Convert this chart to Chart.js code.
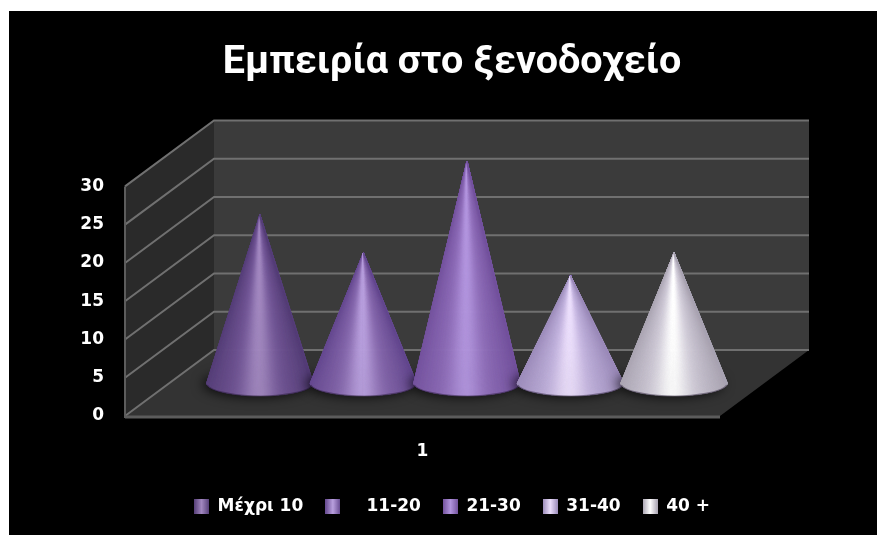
<!DOCTYPE html>
<html>
<head>
<meta charset="utf-8">
<title>Εμπειρία στο ξενοδοχείο</title>
<script src="https://cdn.jsdelivr.net/npm/chart.js@4/dist/chart.umd.js"></script>
<style>
    html, body { margin: 0; padding: 0; background: #fff; }
    canvas { position: absolute; left: 9px; top: 11px; background: #000; }
</style>
</head>
<body>
<canvas id="experienceChart" width="868" height="524"></canvas>
<script>
const chartTitle = 'Εμπειρία στο ξενοδοχείο';
const categories = ['1'];
const seriesNames = ['Μέχρι 10', '   11-20', '21-30', '31-40', '40 +'];
const seriesValues = [22, 17, 29, 14, 17];
const axisMax = 30;
const axisStep = 5;

// edge, body and highlight colour of each cone
const conePalette = [
    ['#563f78', '#775a9c', '#a288c0'],
    ['#664a90', '#8c6db2', '#b9a0de'],
    ['#74539e', '#9472be', '#b295de'],
    ['#9c8cba', '#c8b9e4', '#ecdffc'],
    ['#aaa4b2', '#d8d3e0', '#ffffff']
];

// 3D box offset between the front plane (the scales) and the back wall
const depthX = 89;
const depthY = -66;
const titleFont = 'Roboto, "Open Sans", sans-serif';
const labelFont = '"DejaVu Sans", sans-serif';

function hexToRgb(hex) {
    return [1, 3, 5].map(function (i) { return parseInt(hex.substr(i, 2), 16); });
}

function mix(a, b, t) {
    return a.map(function (v, i) { return v + (b[i] - v) * t; });
}

function coneColour(palette, u) {
    // u runs from -1 (left silhouette) to 1 (right silhouette)
    var rgb = palette.map(hexToRgb);
    var a = Math.abs(u + 0.02);
    var c = mix(rgb[1], rgb[0], Math.pow(Math.min(a, 1), 1.8));
    c = mix(c, rgb[2], Math.exp(-Math.pow(a / 0.3, 2)));
    return 'rgb(' + c.map(Math.round).join(',') + ')';
}

function legendSwatch(palette) {
    var c = document.createElement('canvas');
    c.width = 15;
    c.height = 15;
    var g = c.getContext('2d');
    var grad = g.createLinearGradient(0, 0, 15, 0);
    grad.addColorStop(0, palette[0]);
    grad.addColorStop(0.5, palette[2]);
    grad.addColorStop(1, palette[0]);
    g.fillStyle = grad;
    g.fillRect(0, 0, 15, 15);
    return c;
}

// walls, floor and gridlines of the 3D box, built from the y scale
const boxPlugin = {
    id: 'box3d',
    beforeDatasetsDraw: function (chart) {
        var ctx = chart.ctx, x = chart.scales.x, y = chart.scales.y;
        var y0 = y.getPixelForValue(0), yTop = y.getPixelForValue(axisMax);
        var poly = function (pts, fill) {
            ctx.beginPath();
            pts.forEach(function (p, i) { i ? ctx.lineTo(p[0], p[1]) : ctx.moveTo(p[0], p[1]); });
            ctx.closePath();
            ctx.fillStyle = fill;
            ctx.fill();
        };
        ctx.save();
        poly([[x.left + depthX, yTop + depthY], [x.right + depthX, yTop + depthY],
              [x.right + depthX, y0 + depthY], [x.left + depthX, y0 + depthY]], '#3b3b3b');
        poly([[x.left, yTop], [x.left + depthX, yTop + depthY],
              [x.left + depthX, y0 + depthY], [x.left, y0]], '#2a2a2a');
        poly([[x.left, y0], [x.left + depthX, y0 + depthY],
              [x.right + depthX, y0 + depthY], [x.right, y0]], '#333333');

        ctx.strokeStyle = '#707070';
        ctx.lineWidth = 2;
        y.ticks.forEach(function (t) {
            var py = y.getPixelForValue(t.value);
            ctx.beginPath();
            ctx.moveTo(x.left, py);
            ctx.lineTo(x.left + depthX, py + depthY);
            ctx.lineTo(x.right + depthX, py + depthY);
            ctx.stroke();
        });
        ctx.strokeStyle = '#5c5c5c';
        ctx.beginPath();
        ctx.moveTo(x.left, yTop);
        ctx.lineTo(x.left, y0 + 2);
        ctx.stroke();
        ctx.lineWidth = 3;
        ctx.beginPath();
        ctx.moveTo(x.left, y0 + 1);
        ctx.lineTo(x.right, y0 + 1);
        ctx.stroke();
        ctx.restore();
    }
};

// each bar element is drawn as a shaded cone standing mid-way into the box
const conePlugin = {
    id: 'cones',
    afterDatasetsDraw: function (chart) {
        var ctx = chart.ctx;
        chart.data.datasets.forEach(function (ds, i) {
            var el = chart.getDatasetMeta(i).data[0];
            var palette = conePalette[i];
            var cx = el.x + depthX * 0.5;
            var apexY = el.y + depthY / 2;
            var baseY = el.base + depthY / 2;
            var rx = el.width / 2 * 1.03;
            var ry = 13;
            var steps = 320;

            ctx.save();
            ctx.shadowColor = 'rgba(0,0,0,0.8)';
            ctx.shadowBlur = 12;
            ctx.shadowOffsetX = -4;
            ctx.shadowOffsetY = 1;
            ctx.fillStyle = '#1d1d1d';
            ctx.beginPath();
            ctx.ellipse(cx, baseY, rx, ry, 0, 0, Math.PI * 2);
            ctx.fill();
            ctx.restore();

            ctx.save();
            ctx.lineWidth = 0.4;
            for (var s = 0; s < steps; s++) {
                var t0 = Math.PI * s / steps, t1 = Math.PI * (s + 1) / steps;
                var col = coneColour(palette, -Math.cos((t0 + t1) / 2));
                ctx.fillStyle = col;
                ctx.strokeStyle = col;
                ctx.beginPath();
                ctx.moveTo(cx, apexY);
                ctx.lineTo(cx - rx * Math.cos(t0), baseY + ry * Math.sin(t0));
                ctx.lineTo(cx - rx * Math.cos(t1), baseY + ry * Math.sin(t1));
                ctx.closePath();
                ctx.fill();
                ctx.stroke();
            }
            // thin dark rim along the front of the base
            ctx.strokeStyle = 'rgba(30,20,45,0.45)';
            ctx.lineWidth = 1.2;
            ctx.beginPath();
            ctx.ellipse(cx, baseY, rx, ry, 0, 0.15, Math.PI - 0.15);
            ctx.stroke();
            ctx.restore();
        });
    }
};

new Chart(document.getElementById('experienceChart'), {
    type: 'bar',
    plugins: [boxPlugin, conePlugin],
    data: {
        labels: categories,
        datasets: seriesNames.map(function (name, i) {
            return {
                label: name,
                data: [seriesValues[i]],
                backgroundColor: 'rgba(0,0,0,0)',
                categoryPercentage: 0.87,
                barPercentage: 1
            };
        })
    },
    options: {
        responsive: false,
        animation: false,
        layout: { padding: { left: 18, right: 0, top: 0, bottom: 10 } },
        scales: {
            x: {
                grid: { display: false },
                border: { display: false },
                ticks: { color: '#fff', padding: 17, font: { family: labelFont, size: 17, weight: 'bold' } },
                afterFit: function (s) { s.height = 60; }
            },
            y: {
                min: 0,
                max: axisMax,
                grid: { display: false },
                border: { display: false },
                ticks: { stepSize: axisStep, color: '#fff', padding: 13, font: { family: labelFont, size: 17, weight: 'bold' } },
                afterFit: function (s) { s.width = 98; }
            },
            // reserves the room the box depth takes to the right of the front plane
            depth: {
                position: 'right',
                display: true,
                grid: { display: false },
                border: { display: false },
                ticks: { display: false },
                afterFit: function (s) { s.width = 157; }
            }
        },
        plugins: {
            tooltip: { enabled: false },
            title: {
                display: true,
                text: chartTitle,
                color: '#fff',
                font: { family: titleFont, size: 39.5, weight: 'bold' },
                padding: { top: 28, bottom: 100 }
            },
            legend: {
                position: 'bottom',
                labels: {
                    color: '#fff',
                    padding: 22,
                    usePointStyle: true,
                    boxWidth: 15,
                    boxHeight: 15,
                    font: { family: labelFont, size: 17, weight: 'bold' },
                    generateLabels: function (chart) {
                        return chart.data.datasets.map(function (ds, i) {
                            return {
                                text: ds.label,
                                fontColor: '#fff',
                                pointStyle: legendSwatch(conePalette[i]),
                                datasetIndex: i,
                                lineWidth: 0
                            };
                        });
                    }
                }
            }
        }
    }
});
</script>
</body>
</html>
